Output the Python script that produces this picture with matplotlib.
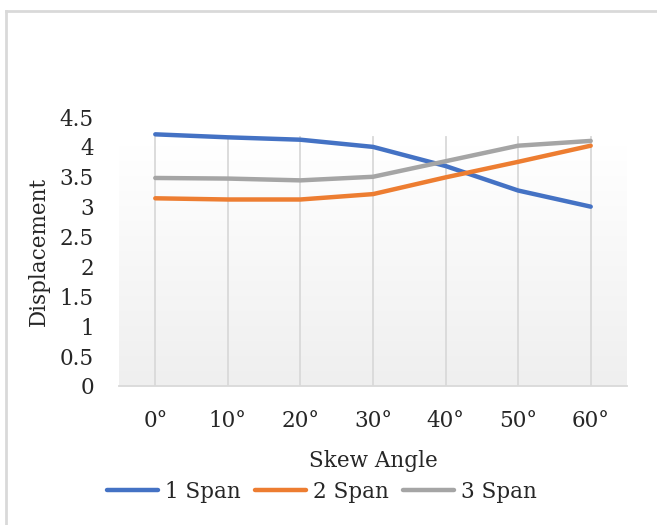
import numpy as np
import matplotlib
matplotlib.use("Agg")
import matplotlib.pyplot as plt
from matplotlib.lines import Line2D
from matplotlib.colors import LinearSegmentedColormap

# Skew-angle categories and displacement per span configuration
angles = ["0°", "10°", "20°", "30°", "40°", "50°", "60°"]
span1 = [4.21, 4.16, 4.12, 4.00, 3.68, 3.27, 3.00]
span2 = [3.14, 3.12, 3.12, 3.21, 3.49, 3.75, 4.02]
span3 = [3.48, 3.47, 3.44, 3.50, 3.76, 4.02, 4.10]
series_names = ["1 Span", "2 Span", "3 Span"]
y_ticks = [0, 0.5, 1, 1.5, 2, 2.5, 3, 3.5, 4, 4.5]

colors = ["#4472C4", "#ED7D31", "#A5A5A5"]
text_color = "#262626"
fs = 15.5
W, H = 657, 525
plt.rcParams["font.family"] = ["DejaVu Serif"]
fig = plt.figure(figsize=(W / 100, H / 100), dpi=100)
fig.patch.set_facecolor("white")

# plot area in pixel coordinates
x0, x1 = 119, 627
y_top, y_bot = 117, 386
ax = fig.add_axes([x0 / W, 1 - y_bot / H, (x1 - x0) / W, (y_bot - y_top) / H])
ax.set_xlim(-0.5, len(angles) - 0.5)
ax.set_ylim(0, 4.5)

# soft vertical gradient behind the data
grad = np.linspace(0, 1, 256).reshape(-1, 1)
cmap = LinearSegmentedColormap.from_list("bg", ["#efefef", "#ffffff"])
ax.imshow(grad, extent=[-0.5, len(angles) - 0.5, 0, 4.0], origin="lower",
          aspect="auto", cmap=cmap, zorder=0)

x = np.arange(len(angles))
for xi in x:
    ax.axvline(xi, ymax=4.17 / 4.5, color="#d9d9d9", lw=1.3, zorder=1)

for vals, c, name in zip([span1, span2, span3], colors, series_names):
    ax.plot(x, vals, color=c, lw=3.2, solid_capstyle="round", zorder=3, label=name)

for s in ["top", "right", "left"]:
    ax.spines[s].set_visible(False)
ax.spines["bottom"].set_color("#d9d9d9")
ax.spines["bottom"].set_linewidth(1.3)

ax.set_xticks(x)
ax.set_xticklabels(angles, fontsize=fs)
ax.set_yticks(y_ticks)
ax.set_yticklabels([f"{v:g}" for v in y_ticks], fontsize=fs)
ax.tick_params(axis="both", length=0, colors=text_color)
ax.tick_params(axis="x", pad=17)
ax.tick_params(axis="y", pad=18)

ax.set_xlabel("Skew Angle", fontsize=fs, color=text_color, labelpad=13)
ax.set_ylabel("Displacement", fontsize=fs, color=text_color, labelpad=7)

handles = [Line2D([0], [0], color=c, lw=3.2, solid_capstyle="round") for c in colors]
fig.legend(handles, series_names, loc="center", bbox_to_anchor=(0.49, 1 - 492 / H),
           ncol=3, frameon=False, fontsize=fs, handlelength=2.37, handletextpad=0.33,
           columnspacing=0.65, labelcolor=text_color, borderpad=0, borderaxespad=0)

# outer chart border
fig.add_artist(Line2D([6 / W, 6 / W], [0, 1 - 11 / H], transform=fig.transFigure,
                      color="#d9d9d9", lw=2))
fig.add_artist(Line2D([6 / W, 1], [1 - 11 / H, 1 - 11 / H], transform=fig.transFigure,
                      color="#d9d9d9", lw=2))

fig.savefig("out.png", dpi=100)
